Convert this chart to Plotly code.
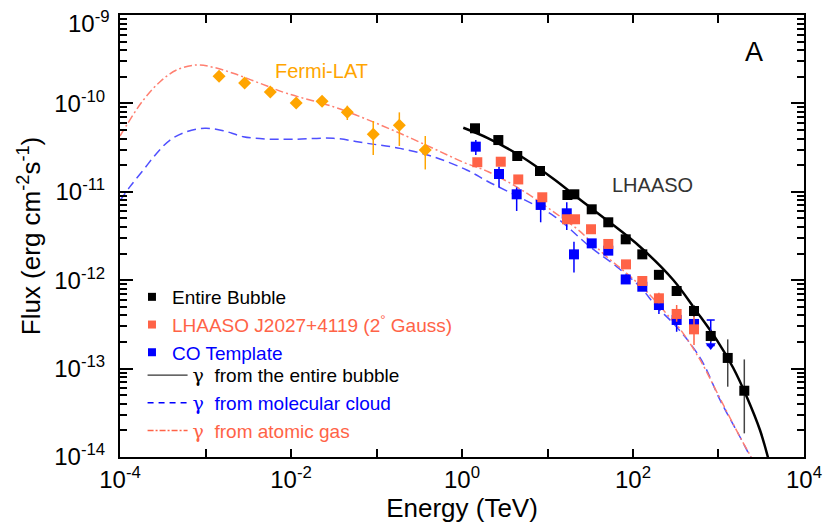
import plotly.graph_objects as go

# ---------------- data ----------------
# Fermi-LAT
fermi_E = [1.44e-3, 2.87e-3, 5.73e-3, 1.15e-2, 2.31e-2, 4.56e-2, 9.16e-2, 0.185, 0.372]
fermi_F = [2.03e-10, 1.70e-10, 1.35e-10, 1.01e-10, 1.06e-10, 7.92e-11, 4.47e-11, 5.65e-11, 2.97e-11]
fermi_hi = [2.03e-10, 1.70e-10, 1.35e-10, 1.01e-10, 1.06e-10, 9.42e-11, 6.32e-11, 7.92e-11, 4.28e-11]
fermi_lo = [2.03e-10, 1.70e-10, 1.35e-10, 1.01e-10, 1.06e-10, 6.49e-11, 2.61e-11, 3.30e-11, 1.79e-11]

# Entire Bubble (LHAASO)
bubble_E = [1.42, 2.66, 4.43, 8.17, 17.1, 20.6, 32.9, 51.4, 82.2, 128.5, 201, 324, 517, 811, 1282, 2004]
bubble_F = [5.23e-11, 3.85e-11, 2.54e-11, 1.72e-11, 9.2e-12, 9.37e-12, 6.34e-12, 4.52e-12,
            2.90e-12, 1.96e-12, 1.15e-12, 7.55e-13, 4.48e-13, 2.34e-13, 1.32e-13, 5.62e-14]
bubble_hi = [5.23e-11, 3.85e-11, 2.54e-11, 1.72e-11, 9.2e-12, 9.37e-12, 6.34e-12, 4.52e-12,
             2.90e-12, 1.96e-12, 1.15e-12, 7.55e-13, 5.25e-13, 2.70e-13, 2.14e-13, 1.27e-13]
bubble_lo = [5.23e-11, 3.85e-11, 2.54e-11, 1.72e-11, 9.2e-12, 9.37e-12, 6.34e-12, 4.52e-12,
             2.90e-12, 1.96e-12, 1.15e-12, 7.55e-13, 3.86e-13, 2.00e-13, 6.24e-14, 1.85e-14]

# LHAASO J2027+4119 (2 deg Gauss)
gauss_E = [1.51, 2.84, 4.55, 8.69, 16.9, 21.0, 32.3, 51.4, 82.8, 128.5, 201, 324, 517]
gauss_F = [2.16e-11, 2.19e-11, 1.38e-11, 8.67e-12, 4.89e-12, 4.89e-12, 3.77e-12, 2.57e-12,
           1.51e-12, 9.8e-13, 6.24e-13, 4.15e-13, 2.78e-13]
gauss_hi = [2.16e-11, 2.19e-11, 1.38e-11, 8.67e-12, 4.89e-12, 4.89e-12, 3.77e-12, 2.57e-12,
            1.51e-12, 9.8e-13, 7.23e-13, 5.24e-13, 4.04e-13]
gauss_lo = [2.16e-11, 2.19e-11, 1.38e-11, 8.67e-12, 4.89e-12, 4.89e-12, 3.77e-12, 2.57e-12,
            1.51e-12, 9.8e-13, 5.48e-13, 3.39e-13, 1.85e-13]

# CO Template
co_E = [1.45, 2.71, 4.36, 8.32, 16.8, 20.4, 32.9, 51.4, 82.2, 128.5, 201, 324, 517]
co_F = [3.24e-11, 1.59e-11, 9.37e-12, 7.1e-12, 5.71e-12, 1.96e-12, 2.61e-12, 2.16e-12,
        1.02e-12, 8.44e-13, 5.24e-13, 3.55e-13, 3.2e-13]
co_hi = [3.85e-11, 1.92e-11, 1.12e-11, 8.07e-12, 7.6e-12, 2.72e-12, 2.8e-12, 2.3e-12,
         1.1e-12, 9.0e-13, 6.30e-13, 4.26e-13, 3.4e-13]
co_lo = [2.61e-11, 1.12e-11, 6.07e-12, 4.52e-12, 3.70e-12, 1.22e-12, 2.4e-12, 2.0e-12,
         0.93e-12, 7.8e-13, 4.15e-13, 2.61e-13, 3.0e-13]
# CO Template upper limit
co_ul_E = [811]
co_ul_F = [3.55e-13]
co_ul_arrow = [1.82e-13]

# model curves
atomic_E = [1.0e-4, 1.197e-4, 1.875e-4, 2.94e-4, 4.60e-4, 7.89e-4, 1.233e-3, 2.11e-3, 4.34e-3,
            8.91e-3, 3.13e-2, 7.67e-2, 0.188, 0.461, 1.035, 2.03, 4.99, 12.25, 22.9, 49.2,
            84.3, 158, 271, 355, 608, 1042, 1786, 2512]
atomic_F = [4.27e-11, 5.70e-11, 1.091e-10, 1.758e-10, 2.39e-10, 2.72e-10, 2.56e-10, 2.19e-10,
            1.687e-10, 1.30e-10, 9.18e-11, 6.61e-11, 4.59e-11, 3.10e-11, 2.16e-11, 1.687e-11,
            1.047e-11, 5.78e-12, 3.70e-12, 1.845e-12, 1.197e-12, 6.81e-13, 3.75e-13, 2.80e-13,
            1.26e-13, 4.6e-14, 1.683e-14, 9.3e-15]

molecular_E = [1.0e-4, 1.309e-4, 1.875e-4, 2.69e-4, 3.85e-4, 6.03e-4, 9.86e-4, 1.614e-3, 2.77e-3,
               5.20e-3, 1.064e-2, 3.13e-2, 7.67e-2, 0.188, 0.461, 1.135, 2.03, 4.99, 12.25,
               31.4, 64.4, 120.8, 189, 296, 465, 664, 1042, 1786, 2455]
molecular_F = [7.94e-12, 1.143e-11, 1.766e-11, 2.73e-11, 3.85e-11, 4.79e-11, 5.22e-11, 4.91e-11,
               4.20e-11, 3.95e-11, 3.93e-11, 4.03e-11, 3.54e-11, 3.10e-11, 2.49e-11, 1.766e-11,
               1.300e-11, 8.43e-12, 5.22e-12, 2.39e-12, 1.422e-12, 8.43e-13, 5.01e-13, 3.25e-13,
               1.932e-13, 1.148e-13, 4.42e-14, 1.683e-14, 9.3e-15]

bubble_model_E = [1.035, 2.03, 4.99, 12.25, 22.9, 49.2, 120.8, 296, 556, 953, 1489, 2138, 3055, 3802]
bubble_model_F = [5.31e-11, 4.03e-11, 2.49e-11, 1.358e-11, 8.43e-12, 4.80e-12, 2.39e-12, 1.005e-12,
                  4.41e-13, 2.11e-13, 1.016e-13, 4.81e-14, 2.02e-14, 9.8e-15]

# axis ticks
x_tickvals = [1e-4, 1e-2, 1e0, 1e2, 1e4]
x_ticktext = ["10<sup>-4</sup>", "10<sup>-2</sup>", "10<sup>0</sup>", "10<sup>2</sup>", "10<sup>4</sup>"]
x_minorvals = [1e-3, 1e-1, 1e1, 1e3]
y_tickvals = [1e-14, 1e-13, 1e-12, 1e-11, 1e-10, 1e-9]
y_ticktext = ["10<sup>-14</sup>", "10<sup>-13</sup>", "10<sup>-12</sup>",
              "10<sup>-11</sup>", "10<sup>-10</sup>", " "]
y_top_label = "10<sup>-9</sup>"
y_minor = [m * d for d in y_tickvals[:-1] for m in range(2, 10)]

# ---------------- colours ----------------
C_BLACK = "#000000"
C_RED = "#FF6347"
C_BLUE = "#0000FF"
C_ORANGE = "#FFA500"
C_RED_LINE = "#FF7F70"
C_BLUE_LINE = "#4F4FFF"


def errs(vals, hi, lo):
    return ([h - v for v, h in zip(vals, hi)], [v - l for v, l in zip(vals, lo)])


fig = go.Figure()

# model curves
fig.add_trace(go.Scatter(x=molecular_E, y=molecular_F, mode="lines", showlegend=False,
                         line=dict(color=C_BLUE_LINE, width=1.5, dash="9px,5px", shape="spline")))
fig.add_trace(go.Scatter(x=atomic_E, y=atomic_F, mode="lines", showlegend=False,
                         line=dict(color=C_RED_LINE, width=1.5, dash="8px,3px,2px,3px", shape="spline")))
fig.add_trace(go.Scatter(x=bubble_model_E, y=bubble_model_F, mode="lines", showlegend=False,
                         line=dict(color=C_BLACK, width=2.5, shape="spline")))

# Fermi-LAT
ep, em = errs(fermi_F, fermi_hi, fermi_lo)
fig.add_trace(go.Scatter(x=fermi_E, y=fermi_F, mode="markers", showlegend=False,
                         marker=dict(symbol="diamond", size=10, color=C_ORANGE),
                         error_y=dict(type="data", symmetric=False, array=ep, arrayminus=em,
                                      color=C_ORANGE, thickness=1.5, width=0)))

# CO template
ep, em = errs(co_F, co_hi, co_lo)
fig.add_trace(go.Scatter(x=co_E, y=co_F, mode="markers", showlegend=False,
                         marker=dict(symbol="square", size=10, color=C_BLUE),
                         error_y=dict(type="data", symmetric=False, array=ep, arrayminus=em,
                                      color=C_BLUE, thickness=1.5, width=0)))
fig.add_trace(go.Scatter(x=co_ul_E, y=co_ul_arrow, mode="markers", showlegend=False,
                         marker=dict(symbol="triangle-down", size=9, color=C_BLUE),
                         error_y=dict(type="data", symmetric=False,
                                      array=[u - a for u, a in zip(co_ul_F, co_ul_arrow)],
                                      arrayminus=[0], color=C_BLUE, thickness=1.5, width=4)))

# LHAASO J2027+4119
ep, em = errs(gauss_F, gauss_hi, gauss_lo)
fig.add_trace(go.Scatter(x=gauss_E, y=gauss_F, mode="markers", showlegend=False,
                         marker=dict(symbol="square", size=10, color=C_RED),
                         error_y=dict(type="data", symmetric=False, array=ep, arrayminus=em,
                                      color=C_RED, thickness=1.5, width=0)))

# Entire bubble
ep, em = errs(bubble_F, bubble_hi, bubble_lo)
fig.add_trace(go.Scatter(x=bubble_E, y=bubble_F, mode="markers", showlegend=False,
                         marker=dict(symbol="square", size=10, color=C_BLACK),
                         error_y=dict(type="data", symmetric=False, array=ep, arrayminus=em,
                                      color="#444444", thickness=1.5, width=0)))

# legend entries (markers in legend, lines in legend2)
GAMMA = '<span style="font-family:DejaVu Serif">γ</span>'


def leg_marker(name, color):
    fig.add_trace(go.Scatter(x=[None], y=[None], mode="markers", name=name, legend="legend",
                             marker=dict(symbol="square", size=8, color=color)))


def leg_line(name, color, dash, width=1.5):
    fig.add_trace(go.Scatter(x=[None], y=[None], mode="lines", name=name, legend="legend2",
                             line=dict(color=color, dash=dash, width=width)))


leg_marker('<span style="color:#000000">Entire Bubble</span>', C_BLACK)
leg_marker('<span style="color:#FF6347">LHAASO J2027+4119 (2<sup>°</sup> Gauss)</span>', C_RED)
leg_marker('<span style="color:#0000FF">CO Template</span>', C_BLUE)
leg_line('<span style="color:#000000">' + GAMMA + '  from the entire bubble</span>', "#333333", "solid", 1.2)
leg_line('<span style="color:#0000FF">' + GAMMA + '  from molecular cloud</span>', C_BLUE, "6px,5px")
leg_line('<span style="color:#FF6347">' + GAMMA + '  from atomic gas</span>', C_RED, "6px,2px,2px,2px")

# annotations
fig.add_annotation(x=0.295, y=0.873, xref="paper", yref="paper", text="Fermi-LAT",
                   xanchor="center", yanchor="middle",
                   showarrow=False, font=dict(size=20, color=C_ORANGE))
fig.add_annotation(x=0.778, y=0.615, xref="paper", yref="paper", text="LHAASO",
                   xanchor="center", yanchor="middle",
                   showarrow=False, font=dict(size=20, color="#333333"))
fig.add_annotation(x=0.927, y=0.916, xref="paper", yref="paper", text="A",
                   xanchor="center", yanchor="middle",
                   showarrow=False, font=dict(size=27, color=C_BLACK))
# top y tick label, nudged down as in the reference so it stays inside the page
fig.add_annotation(x=-0.0117, y=1.022, xref="paper", yref="paper", text=y_top_label,
                   xanchor="right", yanchor="top", showarrow=False,
                   font=dict(size=24, color=C_BLACK))

axis_common = dict(showline=True, linecolor="black", linewidth=2, mirror="ticks",
                   showgrid=False, zeroline=False, ticks="inside", tickcolor="black",
                   automargin=False, ticklabeloverflow="allow",
                   tickfont=dict(size=24, color="black"))

fig.update_layout(
    width=838, height=526,
    margin=dict(l=120, r=34, t=15, b=69),
    paper_bgcolor="white", plot_bgcolor="white",
    font=dict(family="Liberation Sans, Arial, sans-serif", color="black"),
    xaxis=dict(type="log", range=[-4.0001, 4.0001], tickmode="array", tickvals=x_tickvals,
               ticktext=x_ticktext, ticklen=8, tickwidth=2,
               minor=dict(tickmode="array", tickvals=x_minorvals, ticks="inside", ticklen=8,
                          tickwidth=2, tickcolor="black"),
               title=dict(text="Energy (TeV)", font=dict(size=26), standoff=2),
               **axis_common),
    yaxis=dict(type="log", range=[-14.0001, -8.9999], tickmode="array", tickvals=y_tickvals,
               ticktext=y_ticktext, ticklen=13, tickwidth=2, ticklabelstandoff=8,
               minor=dict(tickmode="array", tickvals=y_minor, ticks="inside", ticklen=7,
                          tickwidth=1.5, tickcolor="black"),
               title=dict(text="Flux (erg cm<sup>-2</sup>s<sup>-1</sup>)", font=dict(size=26),
                          standoff=6),
               **axis_common),
    legend=dict(x=0.0175, y=0.405, xanchor="left", yanchor="top", bgcolor="rgba(0,0,0,0)",
                font=dict(size=19), borderwidth=0, itemwidth=30),
    legend2=dict(x=0.033, y=0.228, xanchor="left", yanchor="top", bgcolor="rgba(0,0,0,0)",
                 font=dict(size=19), borderwidth=0, itemwidth=40),
    showlegend=True,
)

fig.write_html("out.html", config={"displayModeBar": False},
               post_script="document.body.style.margin='0px';")
